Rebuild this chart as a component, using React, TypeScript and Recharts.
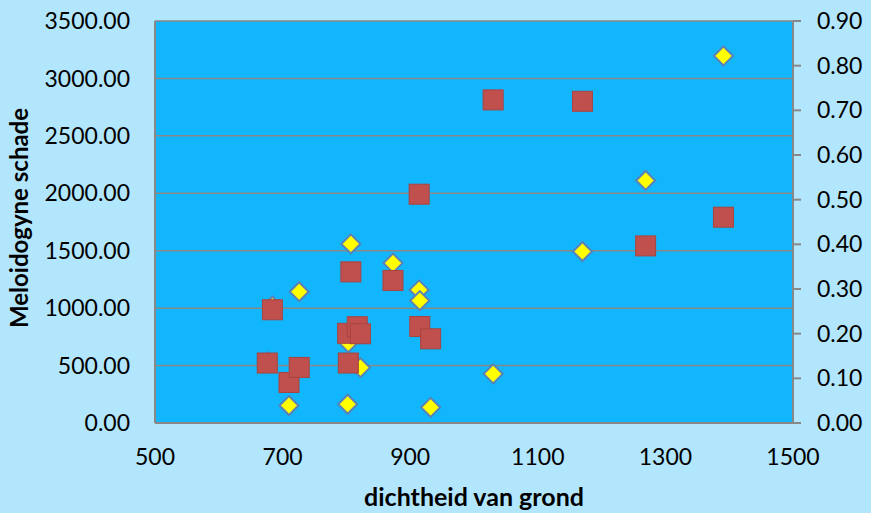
import { ScatterChart, Scatter, XAxis, YAxis, CartesianGrid, Label } from "recharts";

document.body.style.margin = "0";

// dichtheid van grond (x) with both measurements per sample
const density = [676, 684, 710, 726, 802, 803, 807, 817, 822, 873, 914, 915, 932, 1030, 1170, 1269, 1391];
const schade = [522, 986, 353, 484, 781, 522, 1316, 838, 777, 1241, 1992, 840, 733, 2813, 2801, 1542, 1792];
const fractie = [0.137, 0.262, 0.039, 0.294, 0.042, 0.18, 0.401, 0.215, 0.124, 0.358, 0.298, 0.274, 0.035, 0.11, 0.384, 0.543, 0.822];

const xTicks = [500, 700, 900, 1100, 1300, 1500];
const leftTicks = [0, 500, 1000, 1500, 2000, 2500, 3000, 3500];
const rightTicks = [0, 0.1, 0.2, 0.3, 0.4, 0.5, 0.6, 0.7, 0.8, 0.9];

const squares = density.map((x, i) => ({ x, y: schade[i] }));
const diamonds = density.map((x, i) => ({ x, y: fractie[i] }));

const FONT = "Lato, 'Open Sans', sans-serif";
const GRAY = "#888888";
const tickStyle = { fontSize: 23, fill: "#000", fontFamily: FONT };

const Square = (p: any) => (
  <rect x={p.cx - 10} y={p.cy - 10} width={20} height={20} fill="#c0504d" stroke="#a9443f" strokeWidth={1} />
);

const Diamond = (p: any) => {
  const r = 9.5;
  const pts = `${p.cx},${p.cy - r} ${p.cx + r},${p.cy} ${p.cx},${p.cy + r} ${p.cx - r},${p.cy}`;
  return <polygon points={pts} fill="#ffff00" stroke="#5b80b8" strokeWidth={2} />;
};

export default function App() {
  return (
    <div style={{ width: 871, height: 513, background: "#b2e6fd" }}>
      <ScatterChart width={871} height={513} margin={{ top: 21, right: 0, bottom: 0, left: 0 }}>
        <CartesianGrid yAxisId="left" vertical={false} fill="#12b6fc" stroke={GRAY} strokeWidth={1.5} />
        <XAxis
          type="number"
          dataKey="x"
          domain={[500, 1500]}
          ticks={xTicks}
          interval={0}
          height={90}
          tickLine={false}
          tickSize={0}
          tickMargin={26}
          axisLine={{ stroke: GRAY, strokeWidth: 2 }}
          tick={tickStyle}
        >
          <Label
            content={({ viewBox }: any) => (
              <text
                x={viewBox.x + viewBox.width / 2}
                y={viewBox.y + 73}
                textAnchor="middle"
                dominantBaseline="central"
                style={{ fontSize: 25, fontWeight: 700, fontFamily: FONT, fill: "#000" }}
              >
                dichtheid van grond
              </text>
            )}
          />
        </XAxis>
        <YAxis
          yAxisId="left"
          type="number"
          dataKey="y"
          domain={[0, 3500]}
          ticks={leftTicks}
          interval={0}
          width={155}
          tickLine={false}
          tickSize={0}
          tickMargin={25}
          axisLine={{ stroke: GRAY, strokeWidth: 2 }}
          tick={tickStyle}
          tickFormatter={(v: number) => v.toFixed(2)}
        >
          <Label
            content={({ viewBox }: any) => {
              const cx = viewBox.x + 18;
              const cy = viewBox.y + viewBox.height / 2 - 4;
              return (
                <text
                  x={cx}
                  y={cy}
                  transform={`rotate(-90 ${cx} ${cy})`}
                  textAnchor="middle"
                  dominantBaseline="central"
                  style={{ fontSize: 24, fontWeight: 700, fontFamily: FONT, fill: "#000" }}
                >
                  Meloidogyne schade
                </text>
              );
            }}
          />
        </YAxis>
        <YAxis
          yAxisId="right"
          orientation="right"
          type="number"
          dataKey="y"
          domain={[0, 0.9]}
          ticks={rightTicks}
          interval={0}
          width={78}
          tickSize={8}
          tickMargin={16}
          tickLine={{ stroke: GRAY, strokeWidth: 2 }}
          axisLine={{ stroke: GRAY, strokeWidth: 2 }}
          tick={tickStyle}
          tickFormatter={(v: number) => v.toFixed(2)}
        />
        <Scatter name="fractie" yAxisId="right" data={diamonds} shape={Diamond} isAnimationActive={false} />
        <Scatter name="schade" yAxisId="left" data={squares} shape={Square} isAnimationActive={false} />
      </ScatterChart>
    </div>
  );
}
